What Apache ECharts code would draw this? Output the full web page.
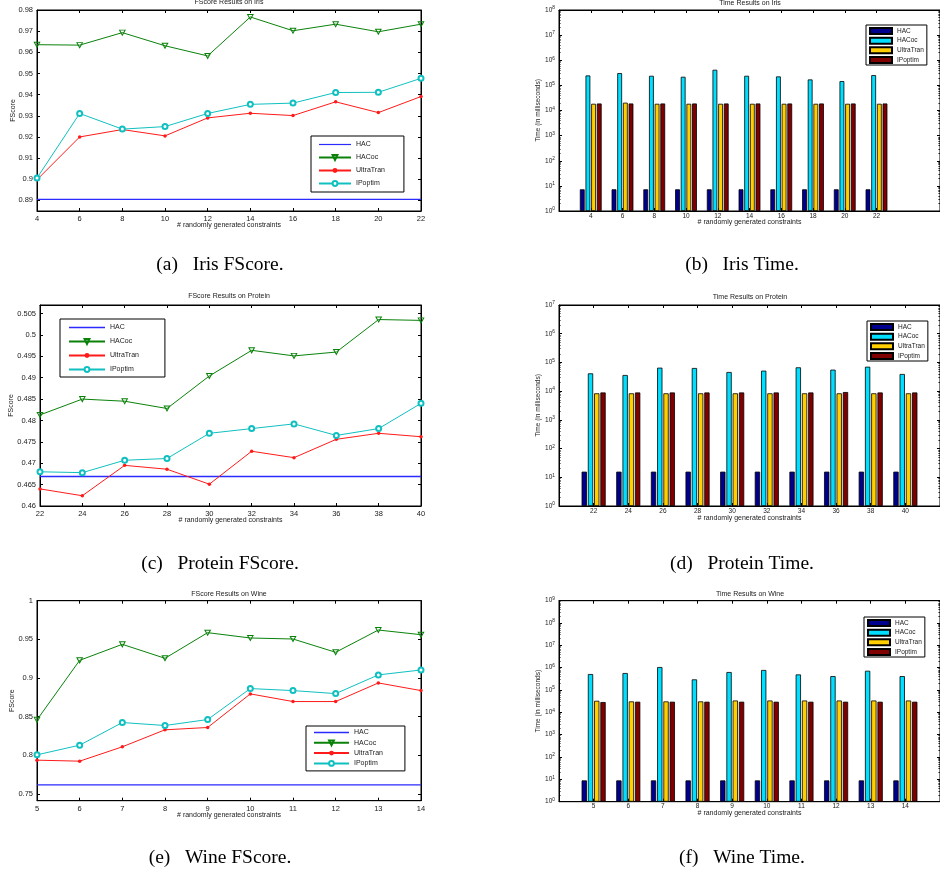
<!DOCTYPE html>
<html><head><meta charset="utf-8">
<script src="https://cdn.jsdelivr.net/npm/echarts@6/dist/echarts.min.js"></script>
<style>
html,body{margin:0;padding:0;background:#fff;width:940px;height:871px;overflow:hidden;position:relative}
.p{position:absolute}
</style></head><body>
<div id="pa" class="p" style="left:0;top:0;width:470px;height:290px"></div>
<div id="pb" class="p" style="left:470px;top:0;width:470px;height:290px"></div>
<div id="pc" class="p" style="left:0;top:290px;width:470px;height:300px"></div>
<div id="pd" class="p" style="left:470px;top:290px;width:470px;height:300px"></div>
<div id="pe" class="p" style="left:0;top:590px;width:470px;height:281px"></div>
<div id="pf" class="p" style="left:470px;top:590px;width:470px;height:281px"></div>
<script>
// ---------------- data ----------------
const seriesNames = ['HAC', 'HACoc', 'UltraTran', 'IPoptim'];

// Iris FScore
const irisX = [4, 6, 8, 10, 12, 14, 16, 18, 20, 22];
const irisHAC = [0.8905, 0.8905, 0.8905, 0.8905, 0.8905, 0.8905, 0.8905, 0.8905, 0.8905, 0.8905];
const irisHACoc = [0.9636, 0.9634, 0.9693, 0.9631, 0.9583, 0.9767, 0.9702, 0.9733, 0.9697, 0.9733];
const irisUltra = [0.8998, 0.9200, 0.9235, 0.9205, 0.9290, 0.9312, 0.9301, 0.9366, 0.9315, 0.9391];
const irisIP = [0.9006, 0.9311, 0.9237, 0.9249, 0.9311, 0.9354, 0.9360, 0.9410, 0.9411, 0.9477];
const irisFTicks = [0.89, 0.9, 0.91, 0.92, 0.93, 0.94, 0.95, 0.96, 0.97, 0.98];

// Protein FScore
const protX = [22, 24, 26, 28, 30, 32, 34, 36, 38, 40];
const protHAC = [0.4669, 0.4669, 0.4669, 0.4669, 0.4669, 0.4669, 0.4669, 0.4669, 0.4669, 0.4669];
const protHACoc = [0.4813, 0.4850, 0.4845, 0.4828, 0.4904, 0.4964, 0.4951, 0.4960, 0.5036, 0.5034];
const protUltra = [0.4640, 0.4624, 0.4695, 0.4686, 0.4651, 0.4728, 0.4713, 0.4756, 0.4770, 0.4762];
const protIP = [0.4680, 0.4678, 0.4707, 0.4711, 0.4770, 0.4781, 0.4792, 0.4765, 0.4781, 0.4840];
const protFTicks = [0.46, 0.465, 0.47, 0.475, 0.48, 0.485, 0.49, 0.495, 0.5, 0.505];

// Wine FScore
const wineX = [5, 6, 7, 8, 9, 10, 11, 12, 13, 14];
const wineHAC = [0.7616, 0.7616, 0.7616, 0.7616, 0.7616, 0.7616, 0.7616, 0.7616, 0.7616, 0.7616];
const wineHACoc = [0.8457, 0.9228, 0.9435, 0.9254, 0.9586, 0.9517, 0.9504, 0.9332, 0.9620, 0.9560];
const wineUltra = [0.7935, 0.7922, 0.8108, 0.8328, 0.8358, 0.8793, 0.8694, 0.8694, 0.8935, 0.8836];
const wineIP = [0.8004, 0.8129, 0.8422, 0.8384, 0.8461, 0.8862, 0.8836, 0.8797, 0.9039, 0.9103];
const wineFTicks = [0.75, 0.8, 0.85, 0.9, 0.95, 1];

// Iris Time (ms)
const irisTHAC = [7.3, 7.3, 7.3, 7.3, 7.3, 7.3, 7.3, 7.3, 7.3, 7.3];
const irisTHACoc = [2.48e5, 3.08e5, 2.41e5, 2.2e5, 4.18e5, 2.41e5, 2.27e5, 1.72e5, 1.48e5, 2.56e5];
const irisTUltra = [1.85e4, 2.05e4, 1.85e4, 1.85e4, 1.85e4, 1.85e4, 1.85e4, 1.85e4, 1.85e4, 1.85e4];
const irisTIP = [1.9e4, 1.9e4, 1.9e4, 1.9e4, 1.9e4, 1.9e4, 1.9e4, 1.9e4, 1.9e4, 1.9e4];
const irisTTicks = [1, 1e1, 1e2, 1e3, 1e4, 1e5, 1e6, 1e7, 1e8];

// Protein Time (ms)
const protTHAC = [15.7, 15.7, 15.7, 15.7, 15.7, 15.7, 15.7, 15.7, 15.7, 15.7];
const protTHACoc = [4.17e4, 3.65e4, 6.57e4, 6.4e4, 4.64e4, 5.17e4, 6.75e4, 5.6e4, 7.1e4, 3.96e4];
const protTUltra = [8.4e3, 8.4e3, 8.4e3, 8.4e3, 8.4e3, 8.4e3, 8.4e3, 8.4e3, 8.4e3, 8.4e3];
const protTIP = [9.0e3, 9.0e3, 9.0e3, 9.0e3, 9.0e3, 9.0e3, 9.0e3, 9.3e3, 9.0e3, 9.0e3];
const protTTicks = [1, 1e1, 1e2, 1e3, 1e4, 1e5, 1e6, 1e7];

// Wine Time (ms)
const wineTHAC = [9.0, 9.0, 9.0, 9.0, 9.0, 9.0, 9.0, 9.0, 9.0, 9.0];
const wineTHACoc = [5.2e5, 5.77e5, 1.07e6, 3.0e5, 6.4e5, 7.9e5, 5.0e5, 4.2e5, 7.3e5, 4.2e5];
const wineTUltra = [3.3e4, 3.1e4, 3.1e4, 3.1e4, 3.4e4, 3.4e4, 3.4e4, 3.4e4, 3.4e4, 3.4e4];
const wineTIP = [2.9e4, 3.0e4, 3.0e4, 3.0e4, 3.0e4, 3.0e4, 3.0e4, 3.0e4, 3.0e4, 3.0e4];
const wineTTicks = [1, 1e1, 1e2, 1e3, 1e4, 1e5, 1e6, 1e7, 1e8, 1e9];

// ---------------- helpers ----------------
const FONT = '"Liberation Sans", Arial, Helvetica, sans-serif';
const SERIF = '"Liberation Serif", "Times New Roman", serif';
const TXT = '#1a1a1a';
const LINECOL = ['#2b2bff', '#0a820a', '#ff1a1a', '#10c0c0'];
const BARCOL = ['#00008F', '#00DFFF', '#FFCF00', '#800000'];
const TRI = 'path://M0,0L10,0L5,9Z';
const FLAT = 'path://M0,0L40,0L40,1.5L0,1.5Z';
const pairs = (xs, ys) => xs.map((x, i) => [x, ys[i]]);
const blackLine = { show: true, onZero: false, lineStyle: { color: '#000', width: 1 } };

function titles(d, g) {
  return [
    { text: d.title, left: g.left + g.width / 2, top: d.titleTop, textAlign: 'center', padding: 0,
      textStyle: { fontSize: 7, fontWeight: 'normal', color: TXT, fontFamily: FONT } },
    { text: d.caption, left: d.capX, top: d.capTop, textAlign: 'center', padding: 0,
      textStyle: { fontSize: 19.5, fontWeight: 'normal', color: '#000', fontFamily: SERIF } }
  ];
}

function lineChart(id, d) {
  const g = d.grid;
  const chart = echarts.init(document.getElementById(id), null, { renderer: 'canvas' });
  const xCommon = { type: 'value', min: d.xMin, max: d.xMax, interval: d.xInterval,
    axisLine: blackLine, splitLine: { show: false },
    axisTick: { show: true, inside: true, length: 3, lineStyle: { color: '#000' } } };
  const yCommon = { type: 'value', min: d.yMin, max: d.yMax, axisLine: blackLine, splitLine: { show: false },
    axisTick: { show: true, inside: true, length: 3, customValues: d.yTicks, lineStyle: { color: '#000' } } };
  chart.setOption({
    animation: false,
    textStyle: { fontFamily: FONT },
    title: titles(d, g),
    grid: { left: g.left, top: g.top, width: g.width, height: g.height, show: true, borderColor: '#000', borderWidth: 1, backgroundColor: '#fff' },
    legend: Object.assign({ orient: 'vertical',
      data: [{ name: 'HAC', icon: FLAT }, 'HACoc', 'UltraTran', 'IPoptim'], symbolKeepAspect: true,
      backgroundColor: '#fff', borderColor: '#000', borderWidth: 1, borderRadius: 0,
      selectedMode: false, textStyle: { fontSize: 7, color: TXT, fontFamily: FONT } }, d.legend),
    xAxis: [
      Object.assign({}, xCommon, { position: 'bottom',
        axisLabel: { fontSize: 7.5, color: TXT, margin: 4, fontFamily: FONT },
        name: '# randomly generated constraints', nameLocation: 'middle', nameGap: 11, nameMoveOverlap: false,
        nameTextStyle: { fontSize: 7, color: TXT, fontFamily: FONT } }),
      Object.assign({}, xCommon, { position: 'top', axisLabel: { show: false } })
    ],
    yAxis: [
      Object.assign({}, yCommon, { position: 'left',
        axisLabel: { customValues: d.yTicks, fontSize: 7.5, color: TXT, margin: 4, fontFamily: FONT },
        name: 'FScore', nameLocation: 'middle', nameGap: d.yNameGap, nameMoveOverlap: false,
        nameTextStyle: { fontSize: 7, color: TXT, fontFamily: FONT } }),
      Object.assign({}, yCommon, { position: 'right', axisLabel: { show: false } })
    ],
    series: [
      { name: 'HAC', type: 'line', data: pairs(d.x, d.vals[0]), symbol: 'none',
        lineStyle: { color: LINECOL[0], width: 1.3 }, itemStyle: { color: LINECOL[0] } },
      { name: 'HACoc', type: 'line', data: pairs(d.x, d.vals[1]), symbol: TRI, symbolSize: [5.5, 5],
        lineStyle: { color: LINECOL[1], width: 1 }, itemStyle: { color: 'rgba(255,255,255,0)', borderColor: LINECOL[1], borderWidth: 1 } },
      { name: 'UltraTran', type: 'line', data: pairs(d.x, d.vals[2]), symbol: 'circle', symbolSize: 3.5,
        lineStyle: { color: LINECOL[2], width: 1 }, itemStyle: { color: LINECOL[2] } },
      { name: 'IPoptim', type: 'line', data: pairs(d.x, d.vals[3]), symbol: 'emptyCircle', symbolSize: 5,
        lineStyle: { color: LINECOL[3], width: 1 }, itemStyle: { color: LINECOL[3], borderWidth: 1 } }
    ]
  });
}

function barChart(id, d) {
  const g = d.grid;
  const chart = echarts.init(document.getElementById(id), null, { renderer: 'canvas' });
  const minor = [];
  d.yTicks.forEach((t, i) => { if (i < d.yTicks.length - 1) { [2, 3, 4, 5, 6, 7, 8, 9].forEach(m => minor.push(m * t)); } });
  const xCommon = { type: 'value', min: d.xMin, max: d.xMax, axisLine: blackLine, splitLine: { show: false },
    axisTick: { show: true, inside: true, length: 3, customValues: d.x, lineStyle: { color: '#000' } } };
  const yCommon = { type: 'log', logBase: 10, min: d.yTicks[0], max: d.yTicks[d.yTicks.length - 1], axisLine: blackLine,
    splitLine: { show: false }, axisTick: { show: true, inside: true, length: 3, customValues: d.yTicks, lineStyle: { color: '#000' } } };
  const yMinor = Object.assign({}, yCommon, { axisLine: { show: false },
    axisTick: { show: true, inside: true, length: 1.6, customValues: minor, lineStyle: { color: '#000', width: 0.8 } },
    axisLabel: { show: false } });
  chart.setOption({
    animation: false,
    textStyle: { fontFamily: FONT },
    title: titles(d, g),
    grid: { left: g.left, top: g.top, width: g.width, height: g.height, show: true, borderColor: '#000', borderWidth: 1, backgroundColor: '#fff' },
    legend: Object.assign({ orient: 'vertical', data: seriesNames, icon: 'rect', backgroundColor: '#fff', borderColor: '#000', borderWidth: 1, borderRadius: 0,
      selectedMode: false, itemWidth: 22, itemHeight: 6, itemGap: 1.67, padding: [2, 3, 1, 3],
      textStyle: { fontSize: 6.5, color: TXT, fontFamily: FONT } }, d.legend),
    xAxis: [
      Object.assign({}, xCommon, { position: 'bottom',
        axisLabel: { customValues: d.x, fontSize: 6.5, color: TXT, margin: 1.5, fontFamily: FONT },
        name: '# randomly generated constraints', nameLocation: 'middle', nameGap: d.xNameGap, nameMoveOverlap: false,
        nameTextStyle: { fontSize: 7, color: TXT, fontFamily: FONT } }),
      Object.assign({}, xCommon, { position: 'top', axisLabel: { show: false } })
    ],
    yAxis: [
      Object.assign({}, yCommon, { position: 'left',
        axisLabel: { customValues: d.yTicks, margin: 4, color: TXT,
          formatter: v => '{b|10}{e|' + Math.round(Math.log10(v)) + '}',
          rich: { b: { fontSize: 6.5, color: TXT, fontFamily: FONT }, e: { fontSize: 4.8, color: TXT, fontFamily: FONT, verticalAlign: 'top', padding: [0, 0, 4, 0] } } },
        name: 'Time (in milliseconds)', nameLocation: 'middle', nameGap: 17, nameMoveOverlap: false,
        nameTextStyle: { fontSize: 6.5, color: TXT, fontFamily: FONT } }),
      Object.assign({}, yCommon, { position: 'right', axisLabel: { show: false } }),
      Object.assign({}, yMinor, { position: 'left' }),
      Object.assign({}, yMinor, { position: 'right' })
    ],
    series: seriesNames.map((n, i) => ({
      name: n, type: 'bar', data: pairs(d.x, d.vals[i]), barWidth: d.barWidth, barGap: d.barGap,
      itemStyle: { color: BARCOL[i], borderColor: '#000', borderWidth: 0.8 }
    }))
  });
}

// ---------------- panels ----------------
lineChart('pa', {
  title: 'FScore Results on Iris', titleTop: -1.5, caption: '(a)\u2002 Iris FScore.', capX: 220, capTop: 255,
  grid: { left: 37, top: 10, width: 384, height: 201 },
  legend: { left: 311, top: 136, padding: [5, 19, 5, 7], itemWidth: 32, itemHeight: 6, itemGap: 6 },
  x: irisX, xMin: 4, xMax: 22, xInterval: 2, yMin: 0.885, yMax: 0.98, yTicks: irisFTicks, yNameGap: 20,
  vals: [irisHAC, irisHACoc, irisUltra, irisIP]
});
lineChart('pc', {
  title: 'FScore Results on Protein', titleTop: 2.5, caption: '(c)\u2002 Protein FScore.', capX: 220, capTop: 264,
  grid: { left: 37, top: 15, width: 384, height: 201 },
  legend: { left: 60, top: 29, padding: [5, 26, 4, 8], itemWidth: 36, itemHeight: 6, itemGap: 7 },
  x: protX, xMin: 22, xMax: 40, xInterval: 2, yMin: 0.46, yMax: 0.507, yTicks: protFTicks, yNameGap: 25,
  vals: [protHAC, protHACoc, protUltra, protIP]
});
lineChart('pe', {
  title: 'FScore Results on Wine', titleTop: 0.5, caption: '(e)\u2002 Wine FScore.', capX: 220, capTop: 258,
  grid: { left: 37, top: 10.7, width: 384, height: 200 },
  legend: { left: 306, top: 136, padding: [3, 22, 4, 7], itemWidth: 35, itemHeight: 6, itemGap: 3.3 },
  x: wineX, xMin: 5, xMax: 14, xInterval: 1, yMin: 0.741, yMax: 1, yTicks: wineFTicks, yNameGap: 21,
  vals: [wineHAC, wineHACoc, wineUltra, wineIP]
});
barChart('pb', {
  title: 'Time Results on Iris', titleTop: -0.5, caption: '(b)\u2002 Iris Time.', capX: 272, capTop: 255,
  grid: { left: 89, top: 10, width: 382, height: 201 },
  legend: { left: 396, top: 25 },
  x: irisX, xMin: 2, xMax: 26, xNameGap: 7.5, yTicks: irisTTicks, barWidth: 4.8, barGap: '18%',
  vals: [irisTHAC, irisTHACoc, irisTUltra, irisTIP]
});
barChart('pd', {
  title: 'Time Results on Protein', titleTop: 4, caption: '(d)\u2002 Protein Time.', capX: 272, capTop: 264,
  grid: { left: 89, top: 15, width: 382, height: 201 },
  legend: { left: 397, top: 31 },
  x: protX, xMin: 20, xMax: 42, xNameGap: 8.5, yTicks: protTTicks, barWidth: 5.3, barGap: '18%',
  vals: [protTHAC, protTHACoc, protTUltra, protTIP]
});
barChart('pf', {
  title: 'Time Results on Wine', titleTop: 0.5, caption: '(f)\u2002 Wine Time.', capX: 272, capTop: 258,
  grid: { left: 89, top: 10.7, width: 382, height: 201 },
  legend: { left: 394, top: 27 },
  x: wineX, xMin: 4, xMax: 15, xNameGap: 8, yTicks: wineTTicks, barWidth: 5.3, barGap: '18%',
  vals: [wineTHAC, wineTHACoc, wineTUltra, wineTIP]
});
</script>
</body></html>
